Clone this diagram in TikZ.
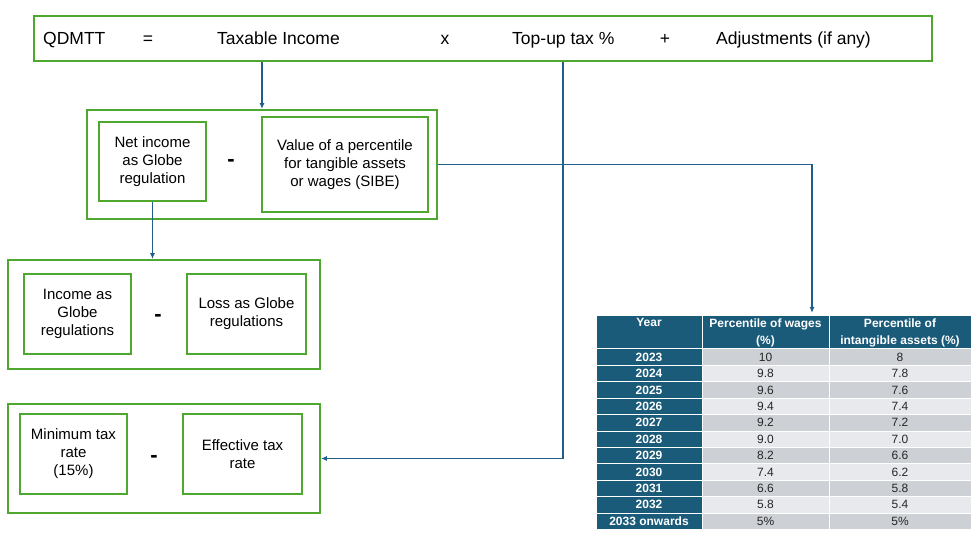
\documentclass[tikz,border=0pt]{standalone}
\usepackage{fontspec}
\setmainfont{Liberation Sans}
\usetikzlibrary{arrows.meta}
\definecolor{boxgreen}{HTML}{4EA72E}
\definecolor{linkblue}{HTML}{1F5F8A}
\definecolor{tabblue}{HTML}{1B5B7A}
\definecolor{rowdark}{HTML}{CDD1D6}
\definecolor{rowlight}{HTML}{E7E9EC}
\begin{document}
\begin{tikzpicture}[x=1pt, y=-1pt,
  gbox/.style={draw=boxgreen, line width=1.8pt, inner sep=0pt, align=center, font=\fontsize{15}{18}\selectfont},
  toptext/.style={anchor=base west, inner sep=0pt, font=\fontsize{17.5}{20}\selectfont},
  minus/.style={inner sep=0pt, font=\fontsize{22}{24}\selectfont\bfseries},
  link/.style={draw=linkblue, line width=1.8pt, -{Latex[length=6pt,width=5pt]}},
  cell/.style={draw=white, line width=1pt, inner sep=0pt, minimum height=16.4pt, font=\fontsize{12}{17}\selectfont},
  headcell/.style={cell, fill=tabblue, text=white, align=center, minimum height=33pt, font=\fontsize{12}{17}\selectfont\bfseries}]
  \useasboundingbox (0,0) rectangle (975,537);
  % formula line
  \node[gbox, minimum width=898pt, minimum height=45pt] (qdmtt) at (483.3,38.2) {};
  \node[toptext] (qname) at (43,45) {QDMTT};
  \node[toptext, anchor=base] (qeq) at (148,45) {=};
  \node[toptext] (taxinc) at (217,45) {Taxable Income};
  \node[toptext, anchor=base] (qtimes) at (445,45) {x};
  \node[toptext] (topup) at (512,45) {Top-up tax \%};
  \node[toptext, anchor=base] (qplus) at (665,45) {+};
  \node[toptext] (adjust) at (716,45) {Adjustments (if any)};
  % taxable income
  \node[gbox, minimum width=350pt, minimum height=109pt] (sibebox) at (262,164.5) {};
  \node[gbox, minimum width=107pt, minimum height=79pt] (netinc) at (152.5,161.5) {Net income\\as Globe\\regulation};
  \node[minus] (minusa) at (231,163) {-};
  \node[gbox, minimum width=166pt, minimum height=95pt] (pctval) at (345,164.5) {Value of a percentile\\for tangible assets\\or wages (SIBE)};
  % net income
  \node[gbox, minimum width=312pt, minimum height=109pt] (grossbox) at (164,314.5) {};
  \node[gbox, minimum width=107pt, minimum height=80pt] (incbox) at (77.5,314) {Income as\\Globe\\regulations};
  \node[minus] (minusb) at (158,318) {-};
  \node[gbox, minimum width=119pt, minimum height=80pt] (lossbox) at (246.5,314) {Loss as Globe\\regulations};
  % top-up tax
  \node[gbox, minimum width=312pt, minimum height=109pt] (etrbox) at (164,458.5) {};
  \node[gbox, minimum width=107pt, minimum height=80pt] (minbox) at (73.5,454) {Minimum tax\\rate\\(15\%)};
  \node[minus] (minusc) at (154,459) {-};
  \node[gbox, minimum width=119pt, minimum height=80pt] (effbox) at (242.5,454) {Effective tax\\rate};
  % table of percentiles
  \node[headcell, minimum width=106pt] (hyear) at (649,332.5) {Year\\\phantom{(\%)}};
  \node[headcell, minimum width=127pt] (hwage) at (765.5,332.5) {Percentile of wages\\(\%)};
  \node[headcell, minimum width=142pt] (hasset) at (900,332.5) {Percentile of\\intangible assets (\%)};
  \foreach \yr/\wg/\ia [count=\i] in {2023/10/8, 2024/9.8/7.8, 2025/9.6/7.6, 2026/9.4/7.4, 2027/9.2/7.2, 2028/9.0/7.0, 2029/8.2/6.6, 2030/7.4/6.2, 2031/6.6/5.8, 2032/5.8/5.4, 2033 onwards/5\%/5\%} {
    \pgfmathsetmacro\ry{349+(\i-0.5)*16.4}
    \ifodd\i \def\rowfill{rowdark}\else \def\rowfill{rowlight}\fi
    \node[cell, fill=tabblue, text=white, minimum width=106pt] (yr\i) at (649,\ry) {\bfseries \yr};
    \node[cell, fill=\rowfill, text=black!85, minimum width=127pt] (wg\i) at (765.5,\ry) {\wg};
    \node[cell, fill=\rowfill, text=black!85, minimum width=142pt] (ia\i) at (900,\ry) {\ia};
  }
  \coordinate (tabin) at (812,313);
  % connectors
  \draw[link] (qdmtt.south -| sibebox.north) -- (sibebox.north);
  \draw[link] (netinc.south) -- (netinc.south |- grossbox.north);
  \draw[link] (qdmtt.south -| topup) |- (etrbox.east);
  \draw[link] (sibebox.east) -| (tabin);
\end{tikzpicture}
\end{document}
